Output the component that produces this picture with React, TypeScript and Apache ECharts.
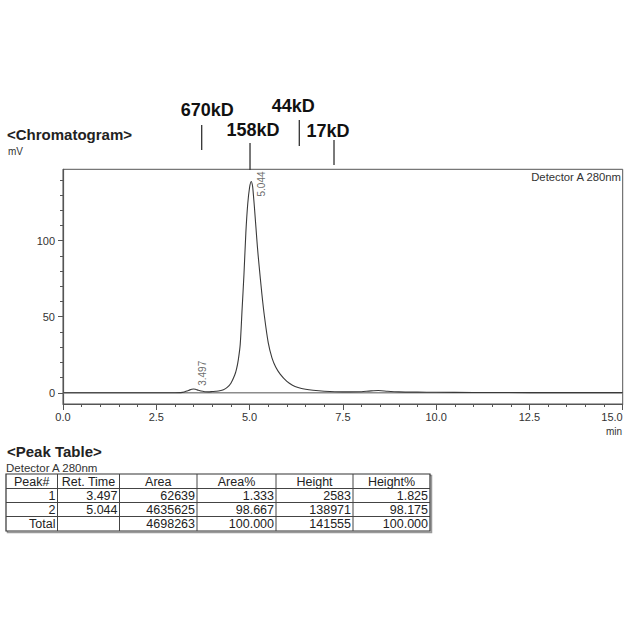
import React, { useEffect, useRef } from 'react';
import * as echarts from 'echarts';

// Chromatogram trace (min, mV)
const traceTime = [0, 1, 2, 3.0, 3.15, 3.25, 3.33, 3.4, 3.45, 3.5, 3.55, 3.6, 3.7, 3.8, 3.9, 4.0, 4.1, 4.2, 4.3, 4.4, 4.5, 4.6, 4.65, 4.7, 4.75, 4.8, 4.85, 4.9, 4.95, 5.0, 5.044, 5.08, 5.1, 5.13, 5.17, 5.21, 5.25, 5.33, 5.4, 5.5, 5.6, 5.7, 5.82, 6.0, 6.15, 6.3, 6.5, 6.7, 7.0, 7.5, 8.0, 8.2, 8.45, 8.7, 9.0, 9.5, 10.0, 11.0, 12.5, 15.0];
const traceSignal = [0, 0, 0, 0, 0.1, 0.5, 1.2, 1.9, 2.3, 2.5, 2.3, 1.9, 1.1, 0.7, 0.6, 0.8, 1.0, 1.3, 2.0, 3.5, 6.3, 11.5, 15.5, 22, 32, 55, 78, 105, 124, 135, 139, 136, 131, 122, 109, 96, 85, 65, 50, 33, 23, 17, 12.3, 7.5, 5.0, 3.5, 2.3, 1.6, 1.0, 0.6, 0.7, 1.1, 1.5, 1.0, 0.6, 0.4, 0.3, 0.2, 0.1, 0.1];

// Peak table values
const tableHeaders = ['Peak#', 'Ret. Time', 'Area', 'Area%', 'Height', 'Height%'];
const peakNumbers = ['1', '2'];
const peakRetTimes = [3.497, 5.044];
const peakAreas = [62639, 4635625];
const peakAreaPct = [1.333, 98.667];
const peakHeights = [2583, 138971];
const peakHeightPct = [1.825, 98.175];
const totalRow = ['Total', '', '4698263', '100.000', '141555', '100.000'];

// Molecular weight markers (min)
const markerNames = ['670kD', '158kD', '44kD', '17kD'];
const markerTimes = [3.717, 5.012, 6.333, 7.263];

// Axis ticks
const xTickInterval = 2.5;
const yMajorTicks = [0, 50, 100];
const yMinorTicks = [10, 20, 30, 40, 60, 70, 80, 90, 110, 120, 130, 140];

const FONT = 'Liberation Sans, Arial, sans-serif';

export default function App() {
  const ref = useRef<HTMLDivElement>(null);
  useEffect(() => {
    const chart = echarts.init(ref.current!, null, { renderer: 'svg', width: 626, height: 626 });
    const trace = traceTime.map((t, i) => [t, traceSignal[i]]);
    // label offsets are in the rotated frame: [-screenDy, screenDx]
    const labelOffsets = [[3, 9], [-15, 10]];
    const peakPoints = peakRetTimes.map((t, i) => ({
      value: [t, peakHeights[i] / 1000],
      label: { offset: labelOffsets[i] },
    }));
    chart.setOption({
      animation: false,
      grid: { left: 63, right: 3.3, top: 169.3, bottom: 222, outerBoundsMode: 'none', containLabel: false, show: true, borderColor: '#555', borderWidth: 1, backgroundColor: 'transparent' },
      xAxis: {
        type: 'value', min: 0, max: 15, interval: xTickInterval,
        axisLine: { show: true, onZero: false, lineStyle: { color: '#555', width: 1.2 } },
        axisTick: { show: true, length: 6, lineStyle: { color: '#555' } },
        minorTick: { show: true, splitNumber: 5, length: 3, lineStyle: { color: '#555' } },
        axisLabel: { color: '#333', fontSize: 11, fontFamily: FONT, margin: 7, alignMaxLabel: 'right', formatter: (v: number) => v.toFixed(1) },
        splitLine: { show: false },
      },
      yAxis: [
        {
          type: 'value', min: -7.4, max: 147, position: 'left',
          axisLine: { show: true, lineStyle: { color: '#555', width: 1.2 } },
          axisTick: { show: true, length: 5, customValues: yMajorTicks, lineStyle: { color: '#555' } },
          axisLabel: { color: '#333', fontSize: 11, fontFamily: FONT, margin: 8, customValues: yMajorTicks },
          splitLine: { show: false },
        },
        {
          type: 'value', min: -7.4, max: 147, position: 'left', offset: 0,
          axisLine: { show: false },
          axisTick: { show: true, length: 3, customValues: yMinorTicks, lineStyle: { color: '#555' } },
          axisLabel: { show: false },
          splitLine: { show: false },
        },
      ],
      series: [
        {
          type: 'line', data: [[0, 0], [15, 0]], symbol: 'none', silent: true,
          lineStyle: { color: '#8c8c8c', width: 1.6 },
        },
        {
          type: 'line', data: trace, symbol: 'none', smooth: 0.25, silent: true,
          lineStyle: { color: '#3a3a3a', width: 1.1 },
        },
        {
          type: 'scatter', data: peakPoints, symbolSize: 1, itemStyle: { color: 'rgba(0,0,0,0)' }, silent: true,
          label: {
            show: true, position: 'inside', rotate: 90, align: 'left', verticalAlign: 'middle',
            fontSize: 10, fontFamily: FONT, color: '#444',
            formatter: (p: any) => p.value[0].toFixed(3),
          },
        },
      ],
    });

    const graphics: any[] = [];
    const txt = (x: number, y: number, text: string, font: string, align = 'left', color = '#222') => ({
      type: 'text', x, y, silent: true,
      style: { text, font, fill: color, align, verticalAlign: 'middle' },
    });
    const line = (x1: number, y1: number, x2: number, y2: number, w = 1, c = '#333') => ({
      type: 'line', silent: true, shape: { x1, y1, x2, y2 }, style: { stroke: c, lineWidth: w },
    });

    // MW markers: vertical tick spans and label offsets relative to each marker
    const lineY = [[125, 150], [143, 170], [120, 146], [140, 165]];
    const labelDx = [5.5, 3, -6, -6];
    const labelY = [110, 130, 106, 131];
    markerTimes.forEach((t, i) => {
      const px = chart.convertToPixel({ xAxisIndex: 0 }, t) as number;
      graphics.push(line(px, lineY[i][0], px, lineY[i][1], 1.3, '#333'));
      graphics.push(txt(px + labelDx[i], labelY[i], markerNames[i], `bold 18px ${FONT}`, 'center', '#111'));
    });

    graphics.push(txt(7, 134, '<Chromatogram>', `bold 15px ${FONT}`));
    graphics.push(txt(8, 151, 'mV', `10px ${FONT}`, 'left', '#333'));
    graphics.push(txt(621, 177, 'Detector A 280nm', `11.3px ${FONT}`, 'right', '#333'));
    graphics.push(txt(622, 431, 'min', `10px ${FONT}`, 'right', '#333'));

    // Peak table
    graphics.push(txt(7, 451, '<Peak Table>', `bold 15px ${FONT}`));
    graphics.push(txt(6, 467.5, 'Detector A 280nm', `11.5px ${FONT}`, 'left', '#333'));
    const colX = [6, 57.5, 119.5, 197, 276, 353, 430];
    const rowY = [474, 488.5, 502.5, 516.5, 531];
    const rows: string[][] = [tableHeaders];
    peakNumbers.forEach((n, i) => {
      rows.push([n, peakRetTimes[i].toFixed(3), String(peakAreas[i]), peakAreaPct[i].toFixed(3), String(peakHeights[i]), peakHeightPct[i].toFixed(3)]);
    });
    rows.push(totalRow);
    graphics.push({ type: 'rect', silent: true, shape: { x: colX[0] + 1.5, y: rowY[0] + 1.5, width: colX[6] - colX[0], height: rowY[4] - rowY[0] }, style: { fill: 'none', stroke: '#999', lineWidth: 1.5 } });
    graphics.push({ type: 'rect', silent: true, shape: { x: colX[0], y: rowY[0], width: colX[6] - colX[0], height: rowY[4] - rowY[0] }, style: { fill: '#fff', stroke: '#333', lineWidth: 1.2 } });
    for (let r = 1; r < rowY.length - 1; r++) graphics.push(line(colX[0], rowY[r], colX[6], rowY[r], 1, '#444'));
    for (let c = 1; c < colX.length - 1; c++) graphics.push(line(colX[c], rowY[0], colX[c], rowY[4], 1, '#444'));
    rows.forEach((row, r) => {
      const cy = (rowY[r] + rowY[r + 1]) / 2 + 0.5;
      row.forEach((cell, c) => {
        if (!cell) return;
        if (r === 0) graphics.push(txt((colX[c] + colX[c + 1]) / 2, cy, cell, `12.5px ${FONT}`, 'center', '#222'));
        else graphics.push(txt(colX[c + 1] - 2, cy, cell, `12.5px ${FONT}`, 'right', '#222'));
      });
    });

    chart.setOption({ graphic: graphics });
    return () => chart.dispose();
  }, []);
  return <div ref={ref} style={{ position: 'absolute', left: 0, top: 0, width: 626, height: 626, background: '#fff' }} />;
}
